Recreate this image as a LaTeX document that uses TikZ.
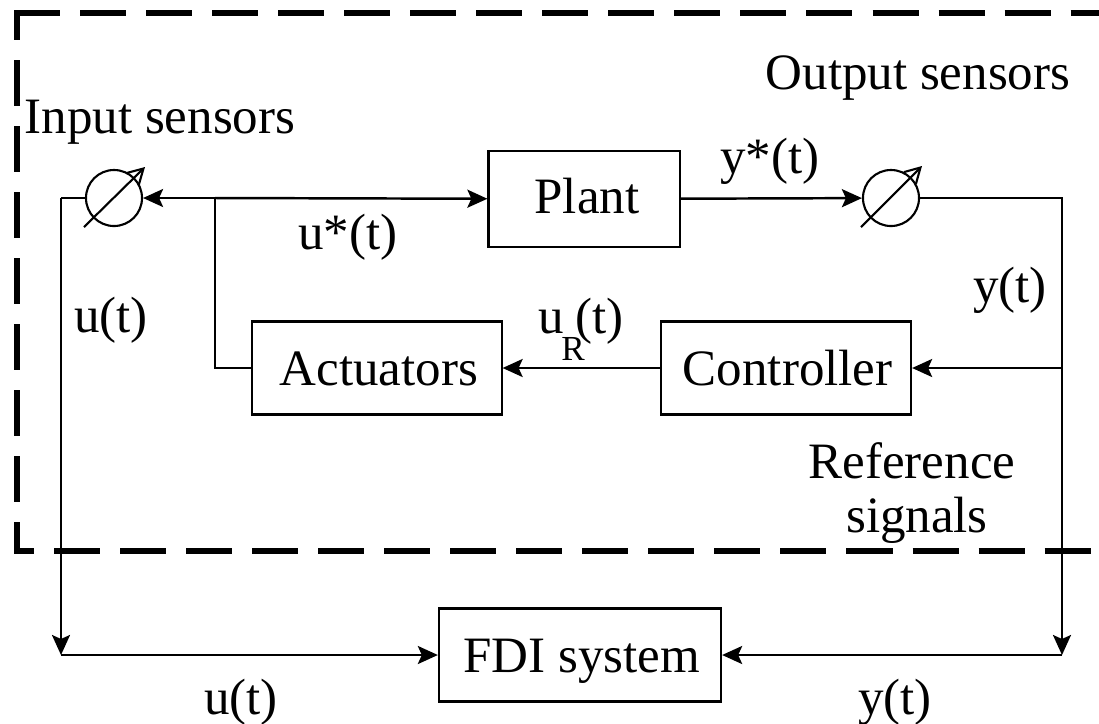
\documentclass[tikz,border=0pt]{standalone}
\usepackage{fontspec}
\setmainfont{Liberation Serif}
\usetikzlibrary{arrows.meta}
\tikzset{
  blockbox/.style={draw, line width=0.6pt, minimum height=0.93cm, inner sep=0pt, text height=10pt, text depth=0pt, font=\fontsize{14.5}{14.5}\selectfont},
  sensor/.style={draw, line width=0.6pt, circle, minimum size=0.56cm, inner sep=0pt},
  lbl/.style={font=\fontsize{14.5}{17}\selectfont, align=center, inner sep=0pt},
  sig/.style={line width=0.7pt, -{Stealth[length=2mm,width=1.8mm,inset=0.4mm]}},
  plainsig/.style={line width=0.7pt},
  slashsig/.style={line width=0.6pt, -{Straight Barb[length=1.5mm,width=1.7mm]}},
  frameline/.style={line width=1.9pt, dash pattern=on 0.46cm off 0.2cm}
}
\begin{document}
\begin{tikzpicture}[x=0.01cm,y=-0.01cm]
\useasboundingbox (0,0) rectangle (1099,723);
% blocks
\node[blockbox, minimum width=1.91cm, minimum height=0.96cm, text depth=2pt] (plant) at (584,199) {\kern1.7pt Plant};
\node[blockbox, minimum width=2.49cm] (actuators) at (377,368) {\kern1pt Actuators};
\node[blockbox, minimum width=2.50cm] (controller) at (786,368) {\kern1pt Controller};
\node[blockbox, minimum width=2.82cm] (fdi) at (580,655) {\kern1pt FDI system};
\node[sensor] (insensor) at (114,198) {};
\node[sensor] (outsensor) at (891,198) {};
\coordinate (inleft) at (61,198);
\coordinate (inbot) at (61,655);
\coordinate (junc) at (215,198);
\coordinate (outright) at (1062,198);
\coordinate (outctrl) at (1062,368);
\coordinate (outbot) at (1062,655);
%%%%
\draw[sig] (junc) -- (insensor);
\draw[sig] (junc) -- (plant);
\draw[sig] (plant) -- (outsensor);
\draw[plainsig] (outsensor) -- (outright) -- (outctrl);
\draw[sig] (outctrl) -- (controller);
\draw[sig] (controller) -- (actuators);
\draw[plainsig] (actuators.west) -| (junc);
\draw[plainsig] (insensor) -- (inleft);
\draw[sig] (inleft) -- (inbot);
\draw[sig] (inbot) -- (fdi);
\draw[sig] (outctrl) -- (outbot);
\draw[sig] (outbot) -- (fdi);
%%%%
\draw[slashsig] (insensor.center) ++(-30,29) -- ++(61,-60);
\draw[slashsig] (outsensor.center) ++(-30,29) -- ++(61,-61);
%%%%
\draw[frameline] (14,13) -- (1099,13);
\draw[frameline, dash phase=0.16cm] (17,10) -- (17,551);
\draw[frameline, dash phase=0.26cm] (14,551) -- (1099,551);
%%%%
\node[lbl] (inlabel) at (160,122) {Input sensors};
\node[lbl] (outlabel) at (918,78) {Output sensors};
\node[lbl] (ustar) at (348,237) {u*(t)};
\node[lbl] (ystar) at (770,161) {y*(t)};
\node[lbl] (uleft) at (111,320) {u(t)};
\node[lbl] (yright) at (1010,290) {y(t)};
\node[lbl, anchor=base] (ur) at (581,333) {u\kern-0.8pt\rlap{\raisebox{-7.7pt}{\fontsize{10}{10}\selectfont R}}\kern3.9pt(t)};
\node[lbl] (ref) at (912,493) {Reference\\[-0.05cm]\hspace*{0.1cm}signals};
\node[lbl] (ubot) at (241,702) {u(t)};
\node[lbl] (ybot) at (895,702) {y(t)};
\end{tikzpicture}
\end{document}
